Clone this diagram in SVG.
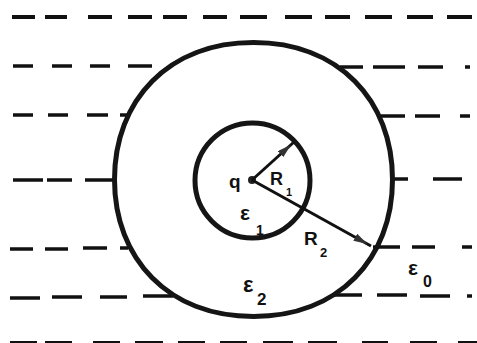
<svg xmlns="http://www.w3.org/2000/svg" width="477" height="343" viewBox="0 0 477 343">
  <style>
    .dash { stroke: #111; stroke-width: 3.5; stroke-linecap: butt; fill: none; }
    .dash1 { stroke-width: 4; }
    .dash7 { stroke-width: 6; }
    .shell { stroke: #151515; stroke-width: 5; fill: none; }
    .radius { stroke: #111; stroke-width: 3; fill: none; }
    .lbl { font-family: "Liberation Sans", Arial, sans-serif; font-weight: bold; fill: #111; }
  </style>
  <defs>
    <marker id="arrow" markerUnits="userSpaceOnUse" markerWidth="20" markerHeight="9" refX="18" refY="4" orient="auto">
      <path d="M0,0 L14,4 L0,8 z" fill="#333"/>
    </marker>
  </defs>
  <rect width="477" height="343" fill="#fff"/>

  <g id="medium-eps0-field-lines">
    <g class="dash dash1">
      <line x1="12" y1="17" x2="35" y2="17"/>
      <line x1="45" y1="17" x2="67" y2="17"/>
      <line x1="88" y1="17" x2="112" y2="17"/>
      <line x1="128" y1="17" x2="152" y2="17"/>
      <line x1="163" y1="17" x2="187" y2="17"/>
      <line x1="203" y1="17" x2="227" y2="17"/>
      <line x1="240" y1="17" x2="267" y2="17"/>
      <line x1="285" y1="17" x2="312" y2="17"/>
      <line x1="325" y1="17" x2="350" y2="17"/>
      <line x1="365" y1="17" x2="392" y2="17"/>
      <line x1="407" y1="17" x2="433" y2="17"/>
      <line x1="447" y1="17" x2="472" y2="17"/>
    </g>
    <g class="dash">
      <line x1="13" y1="66" x2="33" y2="66"/>
      <line x1="52" y1="66" x2="72" y2="66"/>
      <line x1="90" y1="66" x2="110" y2="66"/>
      <line x1="128" y1="66" x2="152" y2="66"/>
      <line x1="340" y1="67" x2="363" y2="67"/>
      <line x1="373" y1="67" x2="405" y2="67"/>
      <line x1="418" y1="67" x2="443" y2="67"/>
      <line x1="465" y1="67" x2="470" y2="67"/>

      <line x1="13" y1="115" x2="33" y2="115"/>
      <line x1="48" y1="115" x2="68" y2="115"/>
      <line x1="87" y1="115" x2="108" y2="115"/>
      <line x1="120" y1="115" x2="128" y2="115"/>
      <line x1="381" y1="116" x2="405" y2="116"/>
      <line x1="415" y1="116" x2="440" y2="116"/>
      <line x1="460" y1="116" x2="470" y2="116"/>

      <line x1="13" y1="180" x2="43" y2="180"/>
      <line x1="47" y1="180" x2="72" y2="180"/>
      <line x1="85" y1="180" x2="115" y2="180"/>
      <line x1="393" y1="179" x2="408" y2="179"/>
      <line x1="433" y1="179" x2="462" y2="179"/>

      <line x1="10" y1="249" x2="33" y2="249"/>
      <line x1="45" y1="249" x2="68" y2="249"/>
      <line x1="83" y1="248" x2="107" y2="248"/>
      <line x1="120" y1="248" x2="128" y2="248"/>
      <line x1="373" y1="247" x2="400" y2="247"/>
      <line x1="412" y1="247" x2="435" y2="247"/>
      <line x1="462" y1="247" x2="472" y2="247"/>

      <line x1="10" y1="298" x2="40" y2="298"/>
      <line x1="52" y1="297" x2="82" y2="297"/>
      <line x1="100" y1="297" x2="127" y2="297"/>
      <line x1="143" y1="296" x2="173" y2="296"/>
      <line x1="332" y1="295" x2="362" y2="295"/>
      <line x1="377" y1="295" x2="407" y2="295"/>
      <line x1="420" y1="296" x2="450" y2="296"/>
      <line x1="467" y1="296" x2="472" y2="296"/>
    </g>
    <g class="dash dash7">
      <line x1="10" y1="344" x2="37" y2="344"/>
      <line x1="45" y1="344" x2="72" y2="344"/>
      <line x1="93" y1="344" x2="120" y2="344"/>
      <line x1="135" y1="344" x2="163" y2="344"/>
      <line x1="178" y1="344" x2="205" y2="344"/>
      <line x1="220" y1="344" x2="247" y2="344"/>
      <line x1="263" y1="344" x2="293" y2="344"/>
      <line x1="308" y1="344" x2="337" y2="344"/>
      <line x1="362" y1="344" x2="388" y2="344"/>
      <line x1="410" y1="344" x2="437" y2="344"/>
      <line x1="458" y1="344" x2="477" y2="344"/>
    </g>
  </g>

  <g id="outer-shell-eps2">
    <path class="shell" d="M392.5,179.5 C392.5,259 338.5,316.5 253.5,316.5 C168.5,316.5 114.5,259 114.5,179.5 C114.5,100 168.5,42.5 253.5,42.5 C338.5,42.5 392.5,100 392.5,179.5 Z"/>
  </g>

  <g id="inner-sphere-eps1">
    <circle class="shell" cx="252.5" cy="180.5" r="57.5"/>
  </g>

  <g id="charge-q">
    <circle cx="252" cy="180" r="4" fill="#222"/>
    <text class="lbl" x="229" y="188" font-size="19">q</text>
  </g>

  <g id="connectors">
    <line class="radius" x1="252" y1="180" x2="294" y2="142" marker-end="url(#arrow)"/>
    <line class="radius" x1="252" y1="180" x2="371" y2="246" marker-end="url(#arrow)"/>
  </g>

  <g id="labels">
    <text class="lbl" x="270" y="185" font-size="18">R</text>
    <text class="lbl" x="286" y="196" font-size="11">1</text>
    <text class="lbl" x="304" y="245" font-size="19">R</text>
    <text class="lbl" x="320" y="257" font-size="13">2</text>
    <text class="lbl" x="240" y="220" font-size="21">ε</text>
    <text class="lbl" x="256" y="235" font-size="14">1</text>
    <text class="lbl" x="243" y="292" font-size="22">ε</text>
    <text class="lbl" x="257" y="305" font-size="17">2</text>
    <text class="lbl" x="408" y="275" font-size="21">ε</text>
    <text class="lbl" x="423" y="287" font-size="16">0</text>
  </g>
</svg>
